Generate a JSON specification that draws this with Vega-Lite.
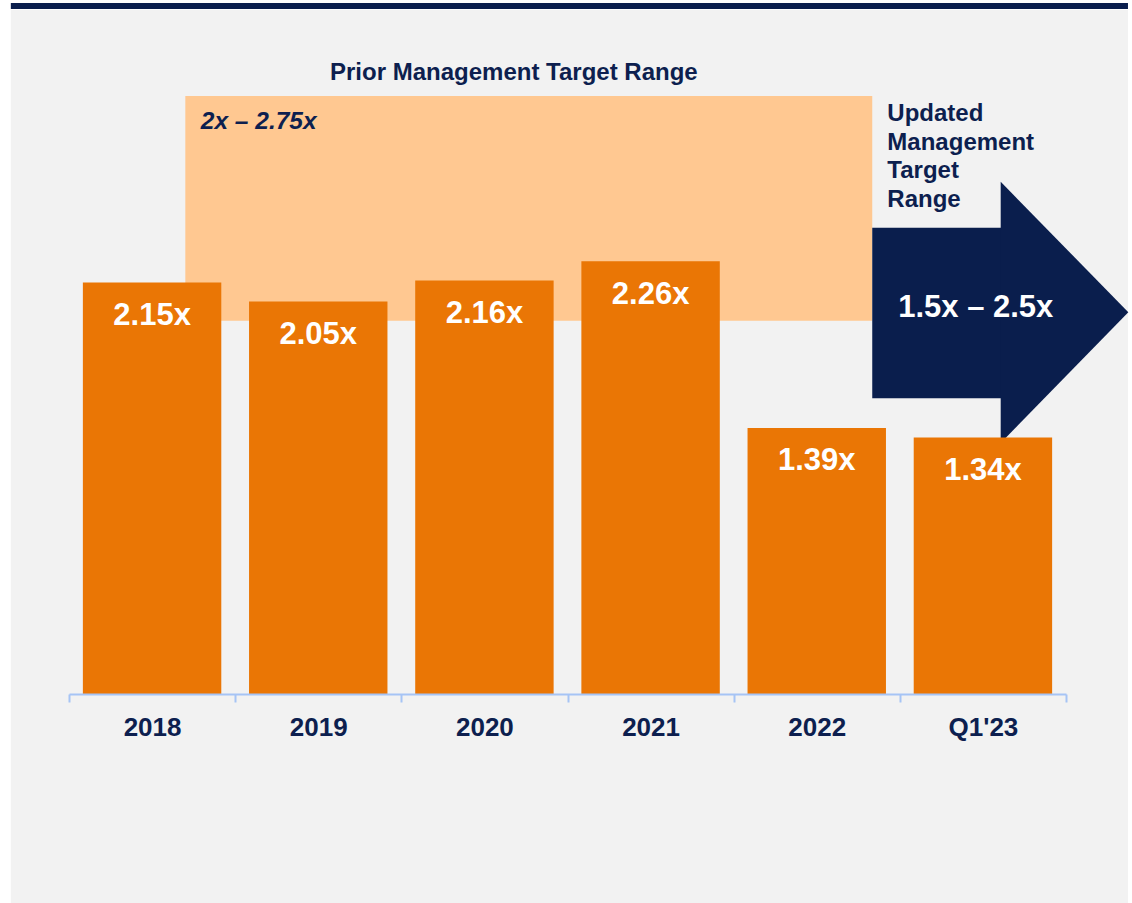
{
  "$schema": "https://vega.github.io/schema/vega-lite/v6.json",
  "width": 997,
  "height": 670,
  "autosize": "none",
  "padding": {"left": 69, "top": 24, "right": 66, "bottom": 209},
  "background": "#FFFFFF",
  "config": {
    "view": {"stroke": null},
    "font": "Liberation Sans",
    "text": {"font": "Liberation Sans"}
  },
  "datasets": {
    "bars": [
      {"period": "2018", "ratio": 2.15, "label": "2.15x"},
      {"period": "2019", "ratio": 2.05, "label": "2.05x"},
      {"period": "2020", "ratio": 2.16, "label": "2.16x"},
      {"period": "2021", "ratio": 2.26, "label": "2.26x"},
      {"period": "2022", "ratio": 1.39, "label": "1.39x"},
      {"period": "Q1'23", "ratio": 1.34, "label": "1.34x"}
    ]
  },
  "resolve": {"scale": {"x": "independent"}},
  "layer": [
    {
      "layer": [
        {
          "data": {"values": [{"x": -0.35, "x2": 6.373, "y": -1.1, "y2": 3.573}]},
          "mark": {"type": "rect", "color": "#F2F2F2"},
          "encoding": {
            "x": {"field": "x", "type": "quantitative", "scale": {"domain": [0, 6], "nice": false, "zero": false}, "axis": null},
            "x2": {"field": "x2"},
            "y": {"field": "y", "type": "quantitative", "scale": {"domain": [0, 3.5], "nice": false}, "axis": null},
            "y2": {"field": "y2"}
          }
        },
        {
          "data": {"values": [{"x": -0.35, "x2": 6.373, "y": 3.578, "y2": 3.61}]},
          "mark": {"type": "rect", "color": "#0A1E4D"},
          "encoding": {
            "x": {"field": "x", "type": "quantitative", "scale": {"domain": [0, 6], "nice": false, "zero": false}, "axis": null},
            "x2": {"field": "x2"},
            "y": {"field": "y", "type": "quantitative", "scale": {"domain": [0, 3.5], "nice": false}, "axis": null},
            "y2": {"field": "y2"}
          }
        },
        {
          "data": {"values": [{"x": 0.7, "x2": 4.834, "y": 1.95, "y2": 3.124}]},
          "mark": {"type": "rect", "color": "#FFC891"},
          "encoding": {
            "x": {"field": "x", "type": "quantitative", "scale": {"domain": [0, 6], "nice": false, "zero": false}, "axis": null},
            "x2": {"field": "x2"},
            "y": {"field": "y", "type": "quantitative", "scale": {"domain": [0, 3.5], "nice": false}, "axis": null},
            "y2": {"field": "y2"}
          }
        },
        {
          "data": {"values": [{"x": 4.834, "x2": 5.62, "y": 1.545, "y2": 2.436}]},
          "mark": {"type": "rect", "color": "#0A1E4D"},
          "encoding": {
            "x": {"field": "x", "type": "quantitative", "scale": {"domain": [0, 6], "nice": false, "zero": false}, "axis": null},
            "x2": {"field": "x2"},
            "y": {"field": "y", "type": "quantitative", "scale": {"domain": [0, 3.5], "nice": false}, "axis": null},
            "y2": {"field": "y2"}
          }
        },
        {
          "data": {"values": [{"x": 5.607, "y": 1.311, "y2": 2.676}, {"x": 6.375, "y": 1.994, "y2": 1.994}]},
          "mark": {"type": "area", "color": "#0A1E4D", "orient": "vertical", "interpolate": "linear"},
          "encoding": {
            "x": {"field": "x", "type": "quantitative", "scale": {"domain": [0, 6], "nice": false, "zero": false}, "axis": null},
            "y": {"field": "y", "type": "quantitative", "scale": {"domain": [0, 3.5], "nice": false}, "axis": null},
            "y2": {"field": "y2"}
          }
        }
      ]
    },
    {
      "data": {"name": "bars"},
      "encoding": {
        "x": {
          "field": "period",
          "type": "ordinal",
          "sort": null,
          "scale": {"paddingInner": 0, "paddingOuter": 0},
          "axis": {
            "orient": "bottom",
            "zindex": 1,
            "title": null,
            "grid": false,
            "labelAngle": 0,
            "domainColor": "#A6C4F5",
            "domainWidth": 2,
            "tickColor": "#A6C4F5",
            "tickWidth": 2,
            "tickSize": 8,
            "tickBand": "extent",
            "labelFont": "Liberation Sans",
            "labelFontSize": 26,
            "labelFontWeight": "bold",
            "labelColor": "#0D1F4F",
            "labelBaseline": "alphabetic",
            "labelPadding": 33
          }
        },
        "y": {"field": "ratio", "type": "quantitative", "scale": {"domain": [0, 3.5], "nice": false}, "axis": null}
      },
      "layer": [
        {"mark": {"type": "bar", "color": "#EA7605", "width": {"band": 0.833}}},
        {
          "mark": {"type": "text", "color": "#FFFFFF", "fontSize": 31, "fontWeight": "bold", "baseline": "alphabetic", "align": "center", "dy": 42.5},
          "encoding": {"text": {"field": "label", "type": "nominal"}}
        }
      ]
    },
    {
      "layer": [
        {
          "data": {"values": [{"x": 2.677, "y": 3.207, "note": "Prior Management Target Range"}]},
          "mark": {"type": "text", "color": "#0D1F4F", "fontSize": 24, "fontWeight": "bold", "align": "center", "baseline": "alphabetic"},
          "encoding": {
            "x": {"field": "x", "type": "quantitative", "scale": {"domain": [0, 6], "nice": false, "zero": false}, "axis": null},
            "y": {"field": "y", "type": "quantitative", "scale": {"domain": [0, 3.5], "nice": false}, "axis": null},
            "text": {"field": "note", "type": "nominal"}
          }
        },
        {
          "data": {"values": [{"x": 0.793, "y": 2.95, "note": "2x – 2.75x"}]},
          "mark": {"type": "text", "color": "#0D1F4F", "fontSize": 24.5, "fontWeight": "bold", "fontStyle": "italic", "align": "left", "baseline": "alphabetic"},
          "encoding": {
            "x": {"field": "x", "type": "quantitative", "scale": {"domain": [0, 6], "nice": false, "zero": false}, "axis": null},
            "y": {"field": "y", "type": "quantitative", "scale": {"domain": [0, 3.5], "nice": false}, "axis": null},
            "text": {"field": "note", "type": "nominal"}
          }
        },
        {
          "data": {"values": [{"x": 4.925, "y": 2.993, "note": "Updated\nManagement\nTarget\nRange"}]},
          "mark": {"type": "text", "color": "#0D1F4F", "fontSize": 24, "fontWeight": "bold", "align": "left", "baseline": "alphabetic", "lineBreak": "\n", "lineHeight": 28.5},
          "encoding": {
            "x": {"field": "x", "type": "quantitative", "scale": {"domain": [0, 6], "nice": false, "zero": false}, "axis": null},
            "y": {"field": "y", "type": "quantitative", "scale": {"domain": [0, 3.5], "nice": false}, "axis": null},
            "text": {"field": "note", "type": "nominal"}
          }
        },
        {
          "data": {"values": [{"x": 5.457, "y": 1.971, "note": "1.5x – 2.5x"}]},
          "mark": {"type": "text", "color": "#FFFFFF", "fontSize": 31, "fontWeight": "bold", "align": "center", "baseline": "alphabetic"},
          "encoding": {
            "x": {"field": "x", "type": "quantitative", "scale": {"domain": [0, 6], "nice": false, "zero": false}, "axis": null},
            "y": {"field": "y", "type": "quantitative", "scale": {"domain": [0, 3.5], "nice": false}, "axis": null},
            "text": {"field": "note", "type": "nominal"}
          }
        }
      ]
    }
  ]
}
